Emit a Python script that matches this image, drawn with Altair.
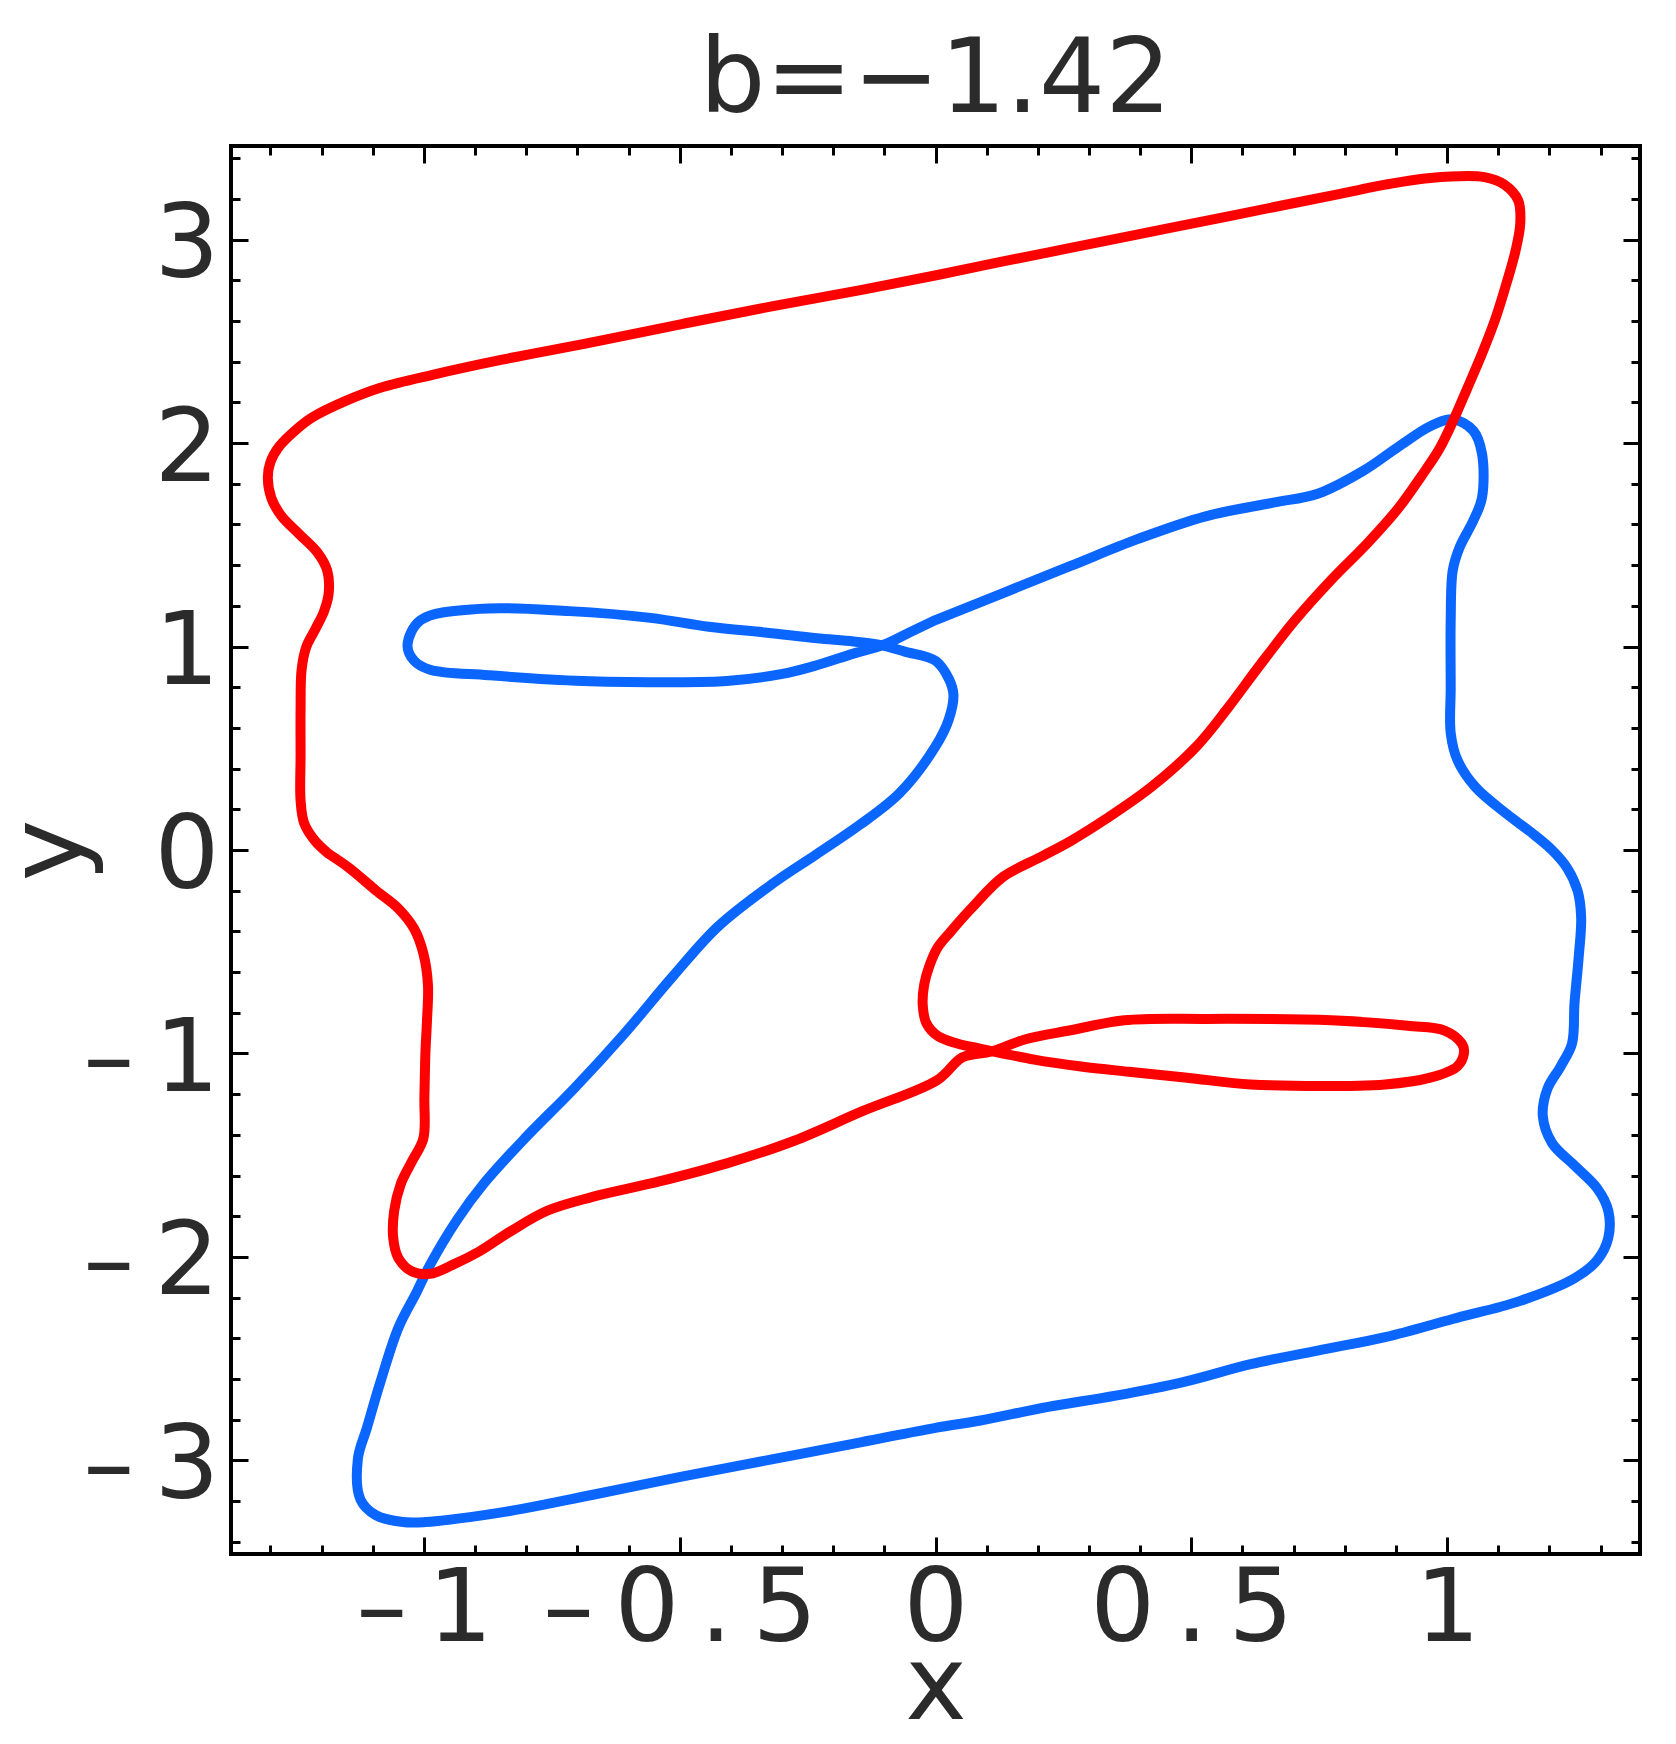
import altair as alt
import pandas as pd

# ---------------- data ----------------
red_x = [-1.186, -1.212, -1.234, -1.241, -1.241, -1.241, -1.239, -1.230, -1.212, -1.195,
         -1.186, -1.189, -1.208, -1.243, -1.278, -1.298, -1.305, -1.300, -1.283, -1.252,
         -1.217, -1.155, -1.085, -0.979, -0.847, -0.672, -0.496, -0.320, -0.144, 0.004,
         0.132, 0.264, 0.396, 0.528, 0.660, 0.791, 0.879, 0.967, 1.073, 1.112,
         1.139, 1.143, 1.134, 1.117, 1.095, 1.068, 1.038, 1.011, 0.985, 0.950,
         0.906, 0.844, 0.774, 0.703, 0.633, 0.572, 0.510, 0.422, 0.334, 0.264,
         0.205, 0.132, 0.070, 0.030, 0.004, -0.012, -0.022, -0.025, -0.018, 0.005,
         0.044, 0.085, 0.193, 0.281, 0.378, 0.492, 0.616, 0.879, 0.967, 1.020,
         1.033, 1.029, 0.994, 0.923, 0.774, 0.528, 0.369, 0.264, 0.176, 0.110,
         0.053, 0.004, -0.144, -0.276, -0.408, -0.540, -0.672, -0.759, -0.830, -0.891,
         -0.944, -0.988, -1.023, -1.050, -1.060, -1.058, -1.045, -1.023, -1.001, -0.999,
         -0.997, -0.994, -0.992, -1.001, -1.019, -1.050, -1.094, -1.146, -1.186]
red_y = [-0.019, 0.043, 0.132, 0.243, 0.465, 0.686, 0.886, 0.997, 1.086, 1.174,
         1.263, 1.374, 1.462, 1.551, 1.640, 1.729, 1.828, 1.906, 1.983, 2.061,
         2.128, 2.205, 2.272, 2.338, 2.410, 2.495, 2.585, 2.672, 2.753, 2.826,
         2.893, 2.959, 3.026, 3.092, 3.159, 3.225, 3.270, 3.303, 3.307, 3.270,
         3.192, 3.081, 2.948, 2.793, 2.615, 2.438, 2.261, 2.105, 1.972, 1.839,
         1.684, 1.507, 1.329, 1.130, 0.905, 0.700, 0.509, 0.310, 0.154, 0.044,
         -0.035, -0.132, -0.287, -0.400, -0.480, -0.570, -0.660, -0.760, -0.850, -0.915,
         -0.952, -0.975, -1.030, -1.063, -1.090, -1.119, -1.152, -1.152, -1.119, -1.063,
         -0.997, -0.952, -0.886, -0.864, -0.837, -0.830, -0.837, -0.886, -0.930, -0.990,
         -1.019, -1.130, -1.285, -1.429, -1.540, -1.629, -1.706, -1.773, -1.873, -1.972,
         -2.039, -2.083, -2.072, -2.005, -1.906, -1.773, -1.640, -1.529, -1.418, -1.218,
         -0.997, -0.842, -0.664, -0.509, -0.387, -0.287, -0.198, -0.088, -0.019]

blue_x = [0.000, 0.132, 0.264, 0.396, 0.528, 0.660, 0.747, 0.835, 0.906, 0.967,
          1.011, 1.051, 1.068, 1.068, 1.051, 1.024, 1.011, 1.007, 1.007, 1.007,
          1.020, 1.055, 1.117, 1.165, 1.205, 1.235, 1.255, 1.262, 1.257, 1.249,
          1.244, 1.222, 1.196, 1.187, 1.205, 1.249, 1.293, 1.315, 1.315, 1.293,
          1.249, 1.143, 1.011, 0.879, 0.747, 0.616, 0.484, 0.352, 0.220, 0.088,
          0.000, -0.144, -0.320, -0.496, -0.672, -0.803, -0.883, -0.997, -1.041, -1.094,
          -1.124, -1.129, -1.111, -1.085, -1.050, -1.014, -0.988, -0.935, -0.883, -0.803,
          -0.707, -0.610, -0.513, -0.425, -0.318, -0.235, -0.150, -0.070, 0.000, 0.026,
          0.035, 0.026, 0.000, -0.060, -0.109, -0.160, -0.232, -0.329, -0.443, -0.557,
          -0.716, -0.891, -1.006, -1.032, -1.019, -0.988, -0.874, -0.689, -0.408, -0.302,
          -0.232, -0.162, -0.100, -0.050, 0.000]
blue_y = [1.130, 1.263, 1.396, 1.529, 1.640, 1.707, 1.751, 1.862, 1.984, 2.083,
          2.117, 2.061, 1.950, 1.729, 1.618, 1.485, 1.374, 1.130, 0.797, 0.575,
          0.443, 0.310, 0.176, 0.085, 0.000, -0.090, -0.200, -0.332, -0.531, -0.753,
          -0.952, -1.063, -1.174, -1.307, -1.440, -1.551, -1.662, -1.773, -1.906, -2.017,
          -2.105, -2.216, -2.305, -2.394, -2.460, -2.527, -2.615, -2.682, -2.737, -2.804,
          -2.840, -2.910, -2.995, -3.080, -3.170, -3.236, -3.269, -3.303, -3.303, -3.269,
          -3.192, -2.992, -2.837, -2.615, -2.349, -2.172, -2.039, -1.817, -1.640, -1.418,
          -1.174, -0.908, -0.620, -0.376, -0.165, -0.025, 0.120, 0.280, 0.509, 0.642,
          0.764, 0.842, 0.930, 0.975, 1.008, 1.025, 1.041, 1.068, 1.097, 1.141,
          1.174, 1.185, 1.130, 1.008, 0.930, 0.886, 0.859, 0.831, 0.831, 0.864,
          0.908, 0.964, 1.010, 1.070, 1.130]

x_major = [-1, -0.5, 0, 0.5, 1]
y_major = [-3, -2, -1, 0, 1, 2, 3]
x_minor = [round(-1.3 + 0.1 * i, 1) for i in range(27)]
y_minor = [round(-3.4 + 0.2 * i, 1) for i in range(35)]

title_text = "b=\u22121.42"
x_title = "x"
y_title = "y"

X_DOMAIN = [-1.377, 1.377]
Y_DOMAIN = [-3.46, 3.46]

red = pd.DataFrame({"x": red_x, "y": red_y, "i": list(range(len(red_x)))})
blue = pd.DataFrame({"x": blue_x, "y": blue_y, "i": list(range(len(blue_x)))})

# ---------------- style ----------------
FONT = "DejaVu Sans"
TXT = "#2b2b2b"
MAJ, MIN = 17, 9
W, H = 1409, 1408
# wide, typewriter-like spacing of the tick labels
SPACED = "join(split(replace(datum.label, '\u2212', '\u2013'), ''), '\u2009')"

xs = alt.Scale(domain=X_DOMAIN, nice=False, zero=False)
ys = alt.Scale(domain=Y_DOMAIN, nice=False, zero=False)


def plain_axis(orient, values, size):
    return alt.Axis(orient=orient, values=values, tickSize=size, offset=-size,
                    labels=False, title=None, domain=False, grid=False,
                    tickColor="black", tickWidth=3)


x_lab_axis = alt.Axis(orient="bottom", values=x_major, tickSize=MAJ, offset=-MAJ,
                      domain=False, grid=False, tickColor="black", tickWidth=3,
                      format="~g",
                      labelFont=FONT, labelFontSize=102, labelColor=TXT,
                      labelPadding=5, labelFlush=False, labelOverlap=False,
                      labelBound=False, labelLimit=0, labelExpr=SPACED,
                      title=x_title, titleFont=FONT, titleFontSize=104,
                      titleFontWeight="normal", titleColor=TXT,
                      titleBaseline="alphabetic", titleY=181)
y_lab_axis = alt.Axis(orient="left", values=y_major, tickSize=MAJ, offset=-MAJ,
                      domain=False, grid=False, tickColor="black", tickWidth=3,
                      format="~g",
                      labelFont=FONT, labelFontSize=102, labelColor=TXT,
                      labelPadding=12, labelOffset=6, labelBaseline="middle",
                      labelFlush=False, labelOverlap=False, labelBound=False,
                      labelLimit=0, labelExpr=SPACED,
                      title=y_title, titleFont=FONT, titleFontSize=104,
                      titleFontWeight="normal", titleColor=TXT,
                      titleBaseline="alphabetic", titleAngle=270,
                      titleX=-168, titleY=H / 2)

line_kw = dict(strokeWidth=10, interpolate="catmull-rom",
               strokeJoin="round", strokeCap="round")

red_layer = alt.Chart(red).mark_line(color="#ff0000", **line_kw).encode(
    x=alt.X("x:Q", scale=xs, axis=x_lab_axis),
    y=alt.Y("y:Q", scale=ys, axis=y_lab_axis),
    order=alt.Order("i:Q"),
)
blue_layer = alt.Chart(blue).mark_line(color="#0a66ff", **line_kw).encode(
    x=alt.X("x:Q", scale=xs, axis=plain_axis("bottom", x_minor, MIN)),
    y=alt.Y("y:Q", scale=ys, axis=plain_axis("left", y_minor, MIN)),
    order=alt.Order("i:Q"),
)
frame_major = alt.Chart(red).mark_line(strokeOpacity=0).encode(
    x=alt.X("x:Q", scale=xs, axis=plain_axis("top", x_major, MAJ)),
    y=alt.Y("y:Q", scale=ys, axis=plain_axis("right", y_major, MAJ)),
    order=alt.Order("i:Q"),
)
frame_minor = alt.Chart(red).mark_line(strokeOpacity=0).encode(
    x=alt.X("x:Q", scale=xs, axis=plain_axis("top", x_minor, MIN)),
    y=alt.Y("y:Q", scale=ys, axis=plain_axis("right", y_minor, MIN)),
    order=alt.Order("i:Q"),
)

chart = (
    alt.layer(frame_major, frame_minor, blue_layer, red_layer)
    .resolve_axis(x="independent", y="independent")
    .properties(
        width=W, height=H,
        autosize=alt.AutoSizeParams(type="none"),
        padding={"left": 223, "top": 138, "right": 20, "bottom": 178},
        title=alt.TitleParams(text=title_text, font=FONT, fontSize=104,
                              fontWeight="normal", color=TXT, anchor="middle",
                              frame="group", baseline="top", offset=11),
        background="white",
    )
    .configure_view(stroke="black", strokeWidth=4)
)

chart.save("out.html", embed_options={"renderer": "svg", "actions": False})
